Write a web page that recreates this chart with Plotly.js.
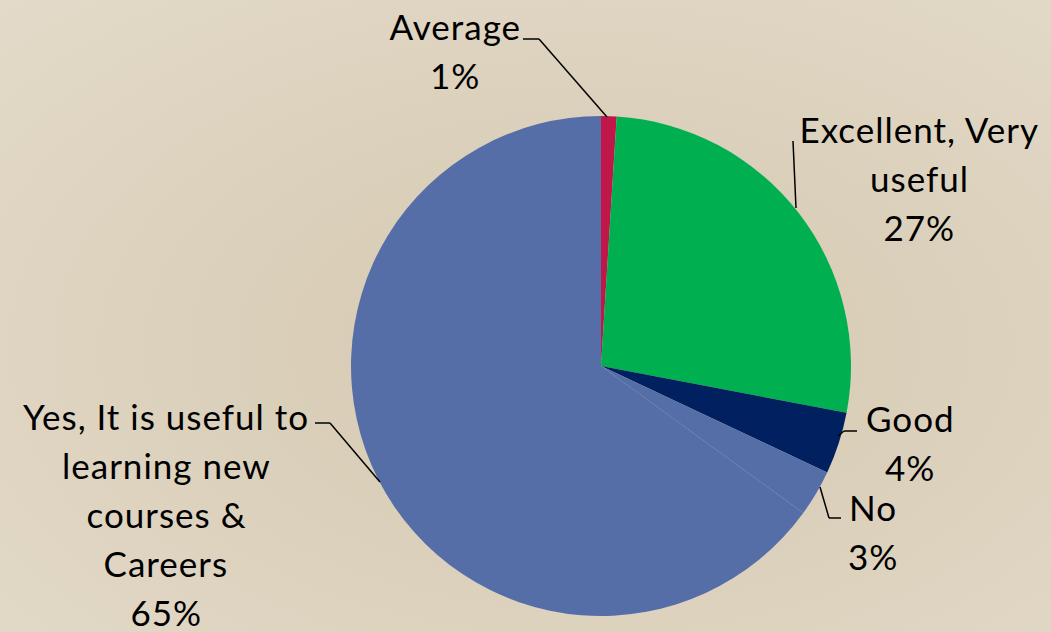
<!DOCTYPE html>
<html>
<head>
<meta charset="utf-8">
<script src="https://cdn.plot.ly/plotly-3.0.1.min.js"></script>
<style>
  html, body { margin: 0; padding: 0; }
  #chart {
    width: 1051px; height: 632px;
    background: radial-gradient(ellipse at 55% 55%, #d6c9b0 0%, #dbd0bb 45%, #e3dac9 100%);
  }
  #chart .annotation-text { letter-spacing: 1px; }
</style>
</head>
<body>
<div id="chart"></div>
<script>
// ---- data ----
const categories = ["Average", "Excellent, Very useful", "Good", "No", "Yes, It is useful to learning new courses & Careers"];
const values = [1, 27, 4, 3, 65];
const colors = ["#c0174a", "#00b050", "#002060", "#566ea8", "#566ea8"];
// label text lines (as shown in the chart)
const labelLines = [
  ["Average", "1%"],
  ["Excellent, Very", "useful", "27%"],
  ["Good", "4%"],
  ["No", "3%"],
  ["Yes, It is useful to", "learning new", "courses &", "Careers", "65%"]
];

// ---- layout helpers (pixel -> paper) ----
const W = 1051, H = 632;
const px = x => x / W;
const py = y => 1 - y / H;

// label block placement: centre x and first-line y, line step
const labelPos = [
  {x: 455, y: 26},
  {x: 919, y: 129},
  {x: 910, y: 418},
  {x: 873, y: 507},
  {x: 166, y: 416}
];
const lineStep = 49;

const annotations = [];
labelLines.forEach((lines, i) => {
  lines.forEach((t, j) => {
    annotations.push({
      xref: "paper", yref: "paper",
      x: px(labelPos[i].x), y: py(labelPos[i].y + j * lineStep),
      xanchor: "center", yanchor: "middle",
      text: t, showarrow: false,
      font: {family: "Lato, 'Open Sans', sans-serif", size: 35, color: "#000"}
    });
  });
});

// leader lines (pixel polylines)
const leaders = [
  [[523, 39], [539, 39], [607, 117]],
  [[793, 141], [796, 208]],
  [[857, 431], [844, 431], [838, 436]],
  [[820, 487], [829, 518], [841, 518]],
  [[315, 423], [330, 423], [380, 482]]
];
const shapes = [];
leaders.forEach(pts => {
  for (let k = 0; k < pts.length - 1; k++) {
    shapes.push({
      type: "line", xref: "paper", yref: "paper",
      x0: px(pts[k][0]), y0: py(pts[k][1]),
      x1: px(pts[k + 1][0]), y1: py(pts[k + 1][1]),
      line: {color: "#000", width: 1.5}
    });
  }
});

const trace = {
  type: "pie",
  labels: categories,
  values: values,
  sort: false,
  direction: "clockwise",
  rotation: 0,
  textinfo: "none",
  hoverinfo: "label+percent",
  marker: {colors: colors, line: {width: 0}},
  domain: {x: [px(351), px(851)], y: [py(616), py(116)]},
  showlegend: false
};

const layout = {
  width: W, height: H,
  margin: {l: 0, r: 0, t: 0, b: 0},
  paper_bgcolor: "rgba(0,0,0,0)",
  plot_bgcolor: "rgba(0,0,0,0)",
  showlegend: false,
  annotations: annotations,
  shapes: shapes
};

Plotly.newPlot("chart", [trace], layout, {displayModeBar: false, staticPlot: true});
</script>
</body>
</html>
